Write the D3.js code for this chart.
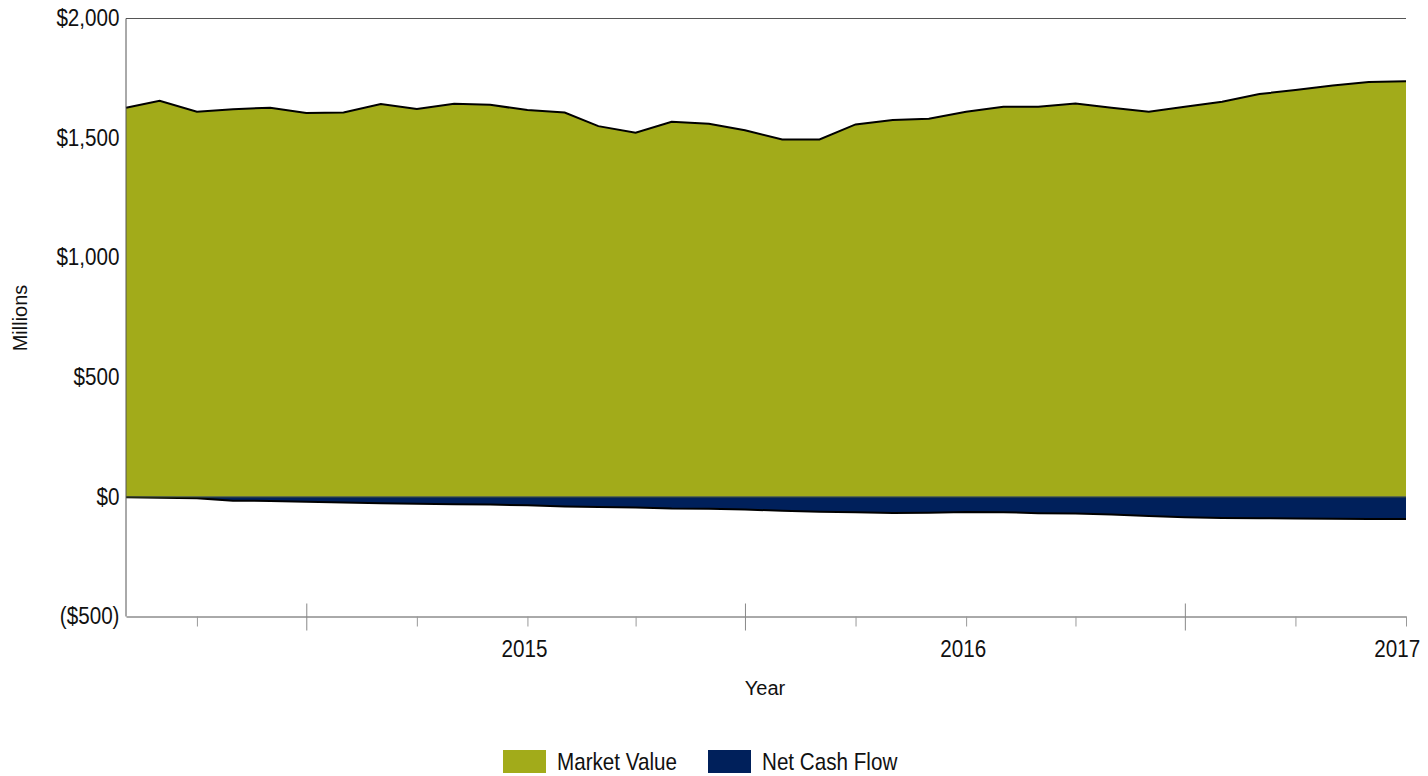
<!DOCTYPE html>
<html>
<head>
<meta charset="utf-8">
<script src="https://cdn.jsdelivr.net/npm/d3@7/dist/d3.min.js"></script>
<style>
  body { margin: 0; background: #fff; }
  svg { display: block; }
  text { font-family: "Liberation Sans Narrow", "Liberation Sans", Arial, sans-serif; }
</style>
</head>
<body>
<svg id="chart" width="1428" height="776"></svg>
<script>
// month-end points, plotted on the first of each month
var months = [
    "2014-02", "2014-03", "2014-04", "2014-05", "2014-06", "2014-07",
    "2014-08", "2014-09", "2014-10", "2014-11", "2014-12", "2015-01",
    "2015-02", "2015-03", "2015-04", "2015-05", "2015-06", "2015-07",
    "2015-08", "2015-09", "2015-10", "2015-11", "2015-12", "2016-01",
    "2016-02", "2016-03", "2016-04", "2016-05", "2016-06", "2016-07",
    "2016-08", "2016-09", "2016-10", "2016-11", "2016-12", "2017-01"
];
var marketValue = [
    1625, 1654, 1608, 1619, 1625, 1603, 1605, 1640, 1620, 1641, 1637, 1615,
    1605, 1548, 1520, 1566, 1558, 1531, 1492, 1492, 1555, 1574, 1579, 1608,
    1629, 1629, 1643, 1625, 1608, 1629, 1650, 1682, 1699, 1718, 1732, 1736
];
var netCashFlow = [
    -4, -6, -8, -18, -19, -22, -26, -29, -31, -33, -34, -37,
    -42, -44, -46, -51, -52, -55, -60, -64, -66, -69, -68, -65,
    -66, -70, -72, -76, -82, -87, -90, -91, -92, -93, -94, -95
];
var yTicks = [-500, 0, 500, 1000, 1500, 2000];
var xTickDates = [
    "2014-04", "2014-07", "2014-10", "2015-01", "2015-04", "2015-07",
    "2015-10", "2016-01", "2016-04", "2016-07", "2016-10", "2017-01"
];
var seriesNames = ["Market Value", "Net Cash Flow"];
var seriesColors = ["#a2ab1a", "#00205b"];

var parseMonth = d3.timeParse("%Y-%m");
var data = months.map(function (m, i) {
    return {date: parseMonth(m), mv: marketValue[i], ncf: netCashFlow[i]};
});

var svg = d3.select("#chart");
var margin = {left: 126, right: 1406, top: 18, bottom: 616};
var squeeze = "scale(0.86,1)";

var x = d3.scaleTime()
    .domain([data[0].date, data[data.length - 1].date])
    .range([margin.left, margin.right]);

var y = d3.scaleLinear()
    .domain([-500, 2000])
    .range([margin.bottom, margin.top]);

var money = function (v) {
    var s = "$" + d3.format(",")(Math.abs(v));
    return v < 0 ? "(" + s + ")" : s;
};

// areas
var mvArea = d3.area()
    .x(function (d) { return x(d.date); })
    .y0(y(0))
    .y1(function (d) { return y(d.mv); });
var ncfArea = d3.area()
    .x(function (d) { return x(d.date); })
    .y0(y(0))
    .y1(function (d) { return y(d.ncf); });

svg.append("path").datum(data)
    .attr("d", mvArea)
    .attr("fill", seriesColors[0]);
svg.append("path").datum(data)
    .attr("d", ncfArea)
    .attr("fill", seriesColors[1]);

svg.append("path").datum(data)
    .attr("fill", "none")
    .attr("stroke", "#000")
    .attr("stroke-width", 2)
    .attr("d", d3.line().x(function (d) { return x(d.date); }).y(function (d) { return y(d.mv); }));
svg.append("path").datum(data)
    .attr("fill", "none")
    .attr("stroke", "#000")
    .attr("stroke-width", 2)
    .attr("d", d3.line().x(function (d) { return x(d.date); }).y(function (d) { return y(d.ncf); }));

svg.append("line")
    .attr("x1", margin.left).attr("x2", margin.right)
    .attr("y1", y(0) + 0.5).attr("y2", y(0) + 0.5)
    .attr("stroke", "#56622e")
    .attr("stroke-width", 1);

// frame top
svg.append("line")
    .attr("x1", margin.left).attr("x2", margin.right)
    .attr("y1", margin.top + 0.5).attr("y2", margin.top + 0.5)
    .attr("stroke", "#555");

// y axis
var yAxis = svg.append("g")
    .attr("transform", "translate(" + (margin.left - 0.5) + ",0)")
    .call(d3.axisLeft(y).tickValues(yTicks).tickFormat(money).tickSize(0).tickPadding(7));
yAxis.select(".domain").attr("stroke", "#555");
yAxis.selectAll("text")
    .attr("font-size", 24).attr("fill", "#111").attr("font-family", null)
    .attr("transform", squeeze);

// x axis
var xAxis = svg.append("g")
    .attr("transform", "translate(0," + (margin.bottom + 0.5) + ")")
    .call(d3.axisBottom(x)
        .tickValues(xTickDates.map(parseMonth))
        .tickSizeOuter(0)
        .tickSizeInner(10)
        .tickPadding(13)
        .tickFormat(function (d) { return d.getMonth() === 0 ? d3.timeFormat("%Y")(d) : ""; }));
xAxis.select(".domain").attr("stroke", "#555");
xAxis.selectAll(".tick line").attr("stroke", "#999");
xAxis.selectAll(".tick")
    .filter(function (d) { return d.getMonth() === 6; })
    .select("line").attr("y1", -13).attr("y2", 14).attr("stroke", "#888");
xAxis.selectAll("text")
    .attr("font-size", 24).attr("fill", "#111").attr("font-family", null)
    .attr("dx", -4)
    .attr("transform", squeeze);
xAxis.selectAll(".tick")
    .filter(function (d) { return +d === +x.domain()[1]; })
    .select("text").attr("text-anchor", "end").attr("dx", 16);

// axis titles
svg.append("text")
    .attr("x", 765).attr("y", 695)
    .attr("text-anchor", "middle")
    .attr("font-size", 20)
    .attr("fill", "#111")
    .text("Year");
svg.append("text")
    .attr("transform", "translate(27,318) rotate(-90)")
    .attr("text-anchor", "middle")
    .attr("font-size", 20)
    .attr("fill", "#111")
    .text("Millions");

// legend
var legendX = [503, 708];
var legend = svg.append("g");
seriesNames.forEach(function (name, i) {
    legend.append("rect")
        .attr("x", legendX[i]).attr("y", 750)
        .attr("width", 43).attr("height", 23)
        .attr("fill", seriesColors[i]);
    legend.append("text")
        .attr("transform", "translate(" + (legendX[i] + 54) + ",770) " + squeeze)
        .attr("font-size", 24)
        .attr("fill", "#111")
        .text(name);
});
</script>
</body>
</html>
